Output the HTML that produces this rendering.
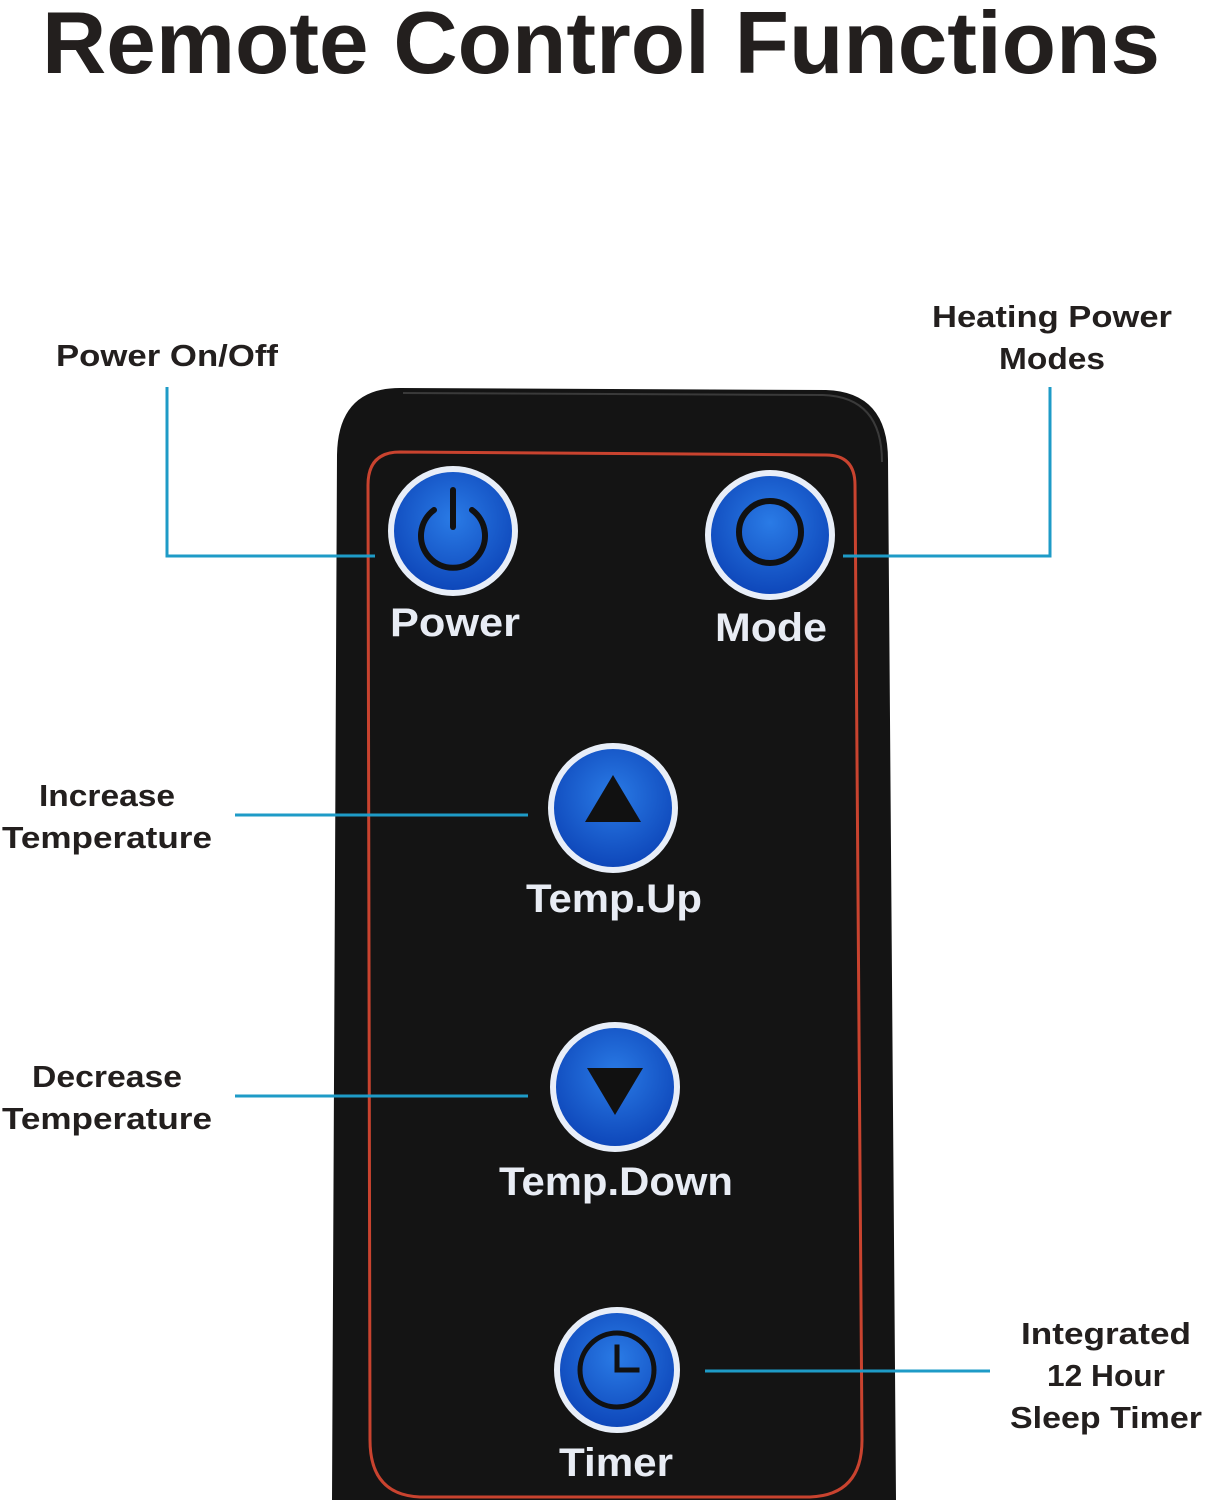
<!DOCTYPE html>
<html><head><meta charset="utf-8"><style>
html,body{margin:0;padding:0;background:#fff;}
svg{display:block;}
</style></head><body>
<svg width="1205" height="1500" viewBox="0 0 1205 1500" xmlns="http://www.w3.org/2000/svg" font-family="Liberation Sans, sans-serif">
<defs>
<radialGradient id="bg" cx="50%" cy="40%" r="60%">
<stop offset="0" stop-color="#2a7be6"/><stop offset="1" stop-color="#0d45b8"/>
</radialGradient>
</defs>
<rect width="1205" height="1500" fill="#fff"/>
<text x="601" y="73" text-anchor="middle" font-size="88" font-weight="bold" fill="#231f1e" textLength="1118" lengthAdjust="spacingAndGlyphs">Remote Control Functions</text>

<!-- remote body -->
<path d="M400 388 L826 390 Q888 392 888 460 L896 1500 L332 1500 L337 455 Q338 388 400 388 Z" fill="#141414"/>
<path d="M403 393 L823 395 Q882 397 882 462" fill="none" stroke="#3a3a3a" stroke-width="2"/>
<path d="M400 452 L826 455 Q855 455 855 485 L862 1440 Q862 1495 810 1497 L420 1497 Q370 1495 370 1440 L368 485 Q368 452 400 452 Z" fill="none" stroke="#c9432f" stroke-width="3"/>

<!-- connectors -->
<g stroke="#1e9bc7" stroke-width="3" fill="none">
<polyline points="167,387 167,556 375,556"/>
<polyline points="1050,387 1050,556 843,556"/>
<line x1="235" y1="815" x2="528" y2="815"/>
<line x1="235" y1="1096" x2="528" y2="1096"/>
<line x1="705" y1="1371" x2="990" y2="1371"/>
</g>

<!-- buttons -->
<g stroke="#e8eef8" stroke-width="6" fill="url(#bg)">
<circle cx="453" cy="531" r="62"/>
<circle cx="770" cy="535" r="62"/>
<circle cx="613" cy="808" r="62"/>
<circle cx="615" cy="1087" r="62"/>
<circle cx="617" cy="1370" r="60"/>
</g>
<!-- icons -->
<g stroke="#111" stroke-width="6" fill="none" stroke-linecap="round">
<path d="M434 510 A32 32 0 1 0 472 510"/>
<line x1="453" y1="490" x2="453" y2="527"/>
<circle cx="770" cy="532" r="31"/>
<circle cx="617" cy="1370" r="37" stroke-width="5"/>
<polyline points="617,1347 617,1370 637,1370" stroke-width="5" stroke-linecap="square"/>
</g>
<polygon points="613,775 585,822 641,822" fill="#111"/>
<polygon points="587,1068 643,1068 615,1115" fill="#111"/>

<!-- button labels -->
<g fill="#e8ecf4" font-weight="bold" font-size="40" text-anchor="middle">
<text x="455" y="636" textLength="130" lengthAdjust="spacingAndGlyphs">Power</text>
<text x="771" y="641" textLength="112" lengthAdjust="spacingAndGlyphs">Mode</text>
<text x="614" y="912" textLength="176" lengthAdjust="spacingAndGlyphs">Temp.Up</text>
<text x="616" y="1195" textLength="234" lengthAdjust="spacingAndGlyphs">Temp.Down</text>
<text x="616" y="1476" textLength="114" lengthAdjust="spacingAndGlyphs">Timer</text>
</g>

<!-- side labels -->
<g fill="#231f1e" font-size="31" font-weight="bold" text-anchor="middle">
<text x="167" y="366" textLength="222" lengthAdjust="spacingAndGlyphs">Power On/Off</text>
<text x="1052" y="327" textLength="240" lengthAdjust="spacingAndGlyphs">Heating Power</text>
<text x="1052" y="369" textLength="106" lengthAdjust="spacingAndGlyphs">Modes</text>
<text x="107" y="806" textLength="136" lengthAdjust="spacingAndGlyphs">Increase</text>
<text x="107" y="848" textLength="210" lengthAdjust="spacingAndGlyphs">Temperature</text>
<text x="107" y="1087" textLength="150" lengthAdjust="spacingAndGlyphs">Decrease</text>
<text x="107" y="1129" textLength="210" lengthAdjust="spacingAndGlyphs">Temperature</text>
<text x="1106" y="1344" textLength="170" lengthAdjust="spacingAndGlyphs">Integrated</text>
<text x="1106" y="1386" textLength="118" lengthAdjust="spacingAndGlyphs">12 Hour</text>
<text x="1106" y="1428" textLength="192" lengthAdjust="spacingAndGlyphs">Sleep Timer</text>
</g>
</svg>
</body></html>
